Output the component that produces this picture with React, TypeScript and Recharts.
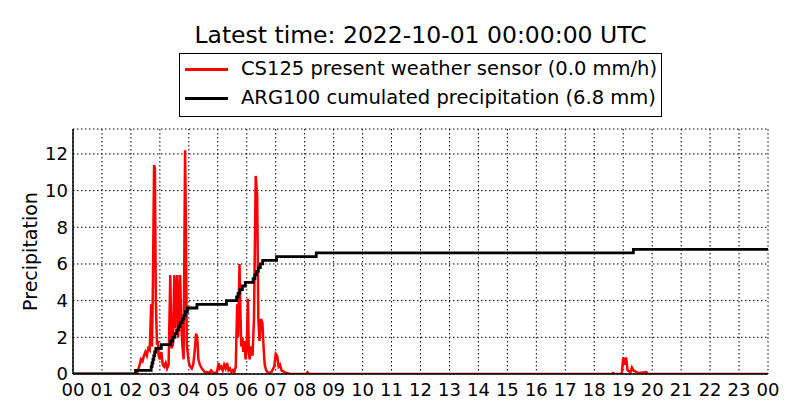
import React from 'react';
import { LineChart, Line, XAxis, YAxis, CartesianGrid } from 'recharts';

const hourLabels = [
  '00', '01', '02', '03', '04', '05', '06', '07', '08', '09', '10', '11',
  '12', '13', '14', '15', '16', '17', '18', '19', '20', '21', '22', '23', '00',
];
const yTicks = [0, 2, 4, 6, 8, 10, 12];

// CS125 rain rate (mm/h), hours since 00 UTC
const rateHours = [
  0, 2.2, 2.25, 2.3, 2.35, 2.4, 2.45, 2.5, 2.55, 2.6, 2.65, 2.7, 2.73, 2.76, 2.8, 2.83, 2.86, 2.9,
  2.93, 2.96, 3.0, 3.05, 3.1, 3.15, 3.2, 3.25, 3.3, 3.36, 3.4, 3.45, 3.5, 3.53, 3.56, 3.6, 3.63,
  3.66, 3.7, 3.74, 3.78, 3.82, 3.87, 3.9, 3.93, 3.97, 4.0, 4.05, 4.1, 4.15, 4.2, 4.25, 4.29, 4.33,
  4.38, 4.45, 4.5, 4.55, 4.65, 4.7, 4.77, 4.82, 4.9, 4.97, 5.03, 5.07, 5.12, 5.17, 5.22, 5.27,
  5.32, 5.37, 5.42, 5.47, 5.52, 5.57, 5.62, 5.67, 5.7, 5.75, 5.78, 5.81, 5.85, 5.88, 5.92, 5.96,
  6.0, 6.04, 6.07, 6.1, 6.15, 6.2, 6.25, 6.31, 6.36, 6.4, 6.44, 6.49, 6.54, 6.58, 6.62, 6.67,
  6.75, 6.85, 6.95, 7.0, 7.05, 7.1, 7.15, 7.2, 7.3, 7.4, 7.5, 8.05, 8.1, 8.15, 18.6, 18.65, 18.7,
  18.95, 19.0, 19.05, 19.1, 19.15, 19.25, 19.3, 19.35, 19.45, 19.55, 19.8, 19.85, 24,
];
const rateValues = [
  0, 0, 0.2, 0.5, 0.8, 0.7, 1.0, 1.2, 1.0, 1.4, 1.3, 3.8, 1.5, 5.0, 11.4, 11.2, 4.0, 1.6,
  1.8, 1.0, 0.8, 1.2, 0.5, 0.4, 0.6, 0.3, 0.5, 5.4, 1.4, 1.6, 5.4, 2.5, 4.2, 5.4, 2.0,
  3.0, 5.4, 2.6, 1.5, 0.8, 12.2, 8.0, 1.6, 1.0, 0.6, 0.4, 0.3, 0.5, 1.2, 2.2, 2.0, 0.8,
  0.5, 0.3, 0.2, 0.1, 0.1, 0.05, 0.2, 0.1, 0.05, 0.1, 0.6, 0.3, 0.4, 0.2, 0.5, 0.3,
  0.6, 0.2, 0.3, 0.1, 0.2, 0.1, 0.4, 3.8, 2.0, 6.0, 3.5, 1.5, 2.0, 1.2, 1.8, 0.8,
  1.5, 4.1, 1.2, 0.8, 1.5, 1.0, 3.0, 10.8, 9.7, 3.0, 1.8, 3.0, 2.8, 1.5, 0.5, 0.2,
  0.05, 0.1, 0.4, 1.1, 1.0, 0.4, 0.5, 0.2, 0.1, 0.05, 0, 0, 0.1, 0, 0, 0.05, 0,
  0, 0.9, 0.5, 0.9, 0.2, 0.1, 0.35, 0.2, 0.1, 0.05, 0.1, 0, 0,
];

// ARG100 cumulated precipitation (mm), one entry per 0.2 mm tip
const gaugeHours = [
  0, 2.16, 2.7, 2.73, 2.76, 2.79, 2.82, 2.86, 3.05, 3.38, 3.45, 3.52, 3.58, 3.64, 3.7, 3.77,
  3.83, 3.88, 3.95, 4.28, 5.3, 5.65, 5.7, 5.76, 5.85, 5.95, 6.22, 6.28, 6.34, 6.4, 6.47,
  6.55, 7.03, 8.4, 19.35, 24,
];
const gaugeTotals = [
  0, 0.2, 0.4, 0.6, 0.8, 1.0, 1.2, 1.4, 1.6, 1.8, 2.0, 2.2, 2.4, 2.6, 2.8, 3.0,
  3.2, 3.4, 3.6, 3.8, 4.0, 4.2, 4.4, 4.6, 4.8, 5.0, 5.2, 5.4, 5.6, 5.8, 6.0,
  6.2, 6.4, 6.6, 6.8, 6.8,
];

const rateData = rateHours.map((h, i) => ({ h, value: rateValues[i] }));
const gaugeData = gaugeHours.map((h, i) => ({ h, value: gaugeTotals[i] }));
const hourTicks = hourLabels.map((_, i) => i);

const FONT = 'DejaVu Sans';
const Y_MAX = 13.36;
const tickStyle = { fontFamily: FONT, fontSize: 18, fill: '#000' };
const frame = { stroke: '#000', strokeWidth: 1.5 };
const inTick = { stroke: '#000', strokeWidth: 1 };

function YLabel({ viewBox }: any) {
  const cx = 30;
  const cy = viewBox.y + viewBox.height / 2;
  return (
    <text
      x={cx}
      y={cy}
      transform={`rotate(-90, ${cx}, ${cy})`}
      textAnchor="middle"
      dominantBaseline="central"
      style={{ fontFamily: FONT, fontSize: 19, fill: '#000' }}
    >
      Precipitation
    </text>
  );
}

export default function App() {
  return (
    <div style={{ position: 'absolute', left: 0, top: 0, width: 800, height: 420, background: '#fff', fontFamily: FONT }}>
      <div style={{ position: 'absolute', left: 73, width: 695, top: 20, textAlign: 'center', fontSize: 23.5, lineHeight: '30px' }}>
        Latest time: 2022-10-01 00:00:00 UTC
      </div>
      <div
        style={{
          position: 'absolute', left: 179, top: 53, width: 481, height: 62,
          border: '1px solid #000', fontSize: 19.5, zIndex: 2, background: '#fff',
        }}
      >
        <div style={{ position: 'absolute', left: 5, top: 14, width: 43, height: 3, background: '#ff0000' }} />
        <div style={{ position: 'absolute', left: 61, top: 2, lineHeight: '26px' }}>CS125 present weather sensor (0.0 mm/h)</div>
        <div style={{ position: 'absolute', left: 5, top: 43, width: 43, height: 3, background: '#000' }} />
        <div style={{ position: 'absolute', left: 61, top: 31, lineHeight: '26px' }}>ARG100 cumulated precipitation (6.8 mm)</div>
      </div>
      <LineChart width={800} height={420} margin={{ top: 129, right: 32, bottom: 12, left: 0 }}>
        <CartesianGrid stroke="#000" strokeDasharray="1.5 2.5" strokeWidth={1} />
        {/* inward tick marks on all four sides */}
        <XAxis xAxisId="bin" orientation="bottom" mirror type="number" domain={[0, 24]} ticks={hourTicks} interval={0} tick={false} tickLine={inTick} tickSize={4} height={0} axisLine={frame} />
        <XAxis
          dataKey="h"
          type="number"
          domain={[0, 24]}
          ticks={hourTicks}
          interval={0}
          tickFormatter={(v: number) => hourLabels[v]}
          tick={tickStyle}
          tickLine={false}
          tickSize={0}
          tickMargin={9}
          height={34}
          axisLine={frame}
          allowDataOverflow
        />
        <XAxis xAxisId="top" orientation="top" mirror type="number" domain={[0, 24]} ticks={hourTicks} interval={0} tick={false} tickLine={inTick} tickSize={4} height={0} axisLine={frame} />
        <YAxis yAxisId="lin" orientation="left" mirror type="number" domain={[0, Y_MAX]} ticks={yTicks} tick={false} tickLine={inTick} tickSize={4} width={0} axisLine={frame} />
        <YAxis
          type="number"
          domain={[0, Y_MAX]}
          ticks={yTicks}
          tick={tickStyle}
          tickLine={false}
          tickSize={0}
          tickMargin={5}
          width={73}
          axisLine={frame}
          label={<YLabel />}
          allowDataOverflow
        />
        <YAxis yAxisId="right" orientation="right" mirror type="number" domain={[0, Y_MAX]} ticks={yTicks} tick={false} tickLine={inTick} tickSize={4} width={0} axisLine={frame} />
        <Line
          data={rateData}
          dataKey="value"
          type="linear"
          stroke="#ff0000"
          strokeWidth={2.5}
          dot={false}
          isAnimationActive={false}
        />
        <Line
          data={gaugeData}
          dataKey="value"
          type="stepAfter"
          stroke="#000"
          strokeWidth={2.8}
          dot={false}
          isAnimationActive={false}
        />
      </LineChart>
    </div>
  );
}
